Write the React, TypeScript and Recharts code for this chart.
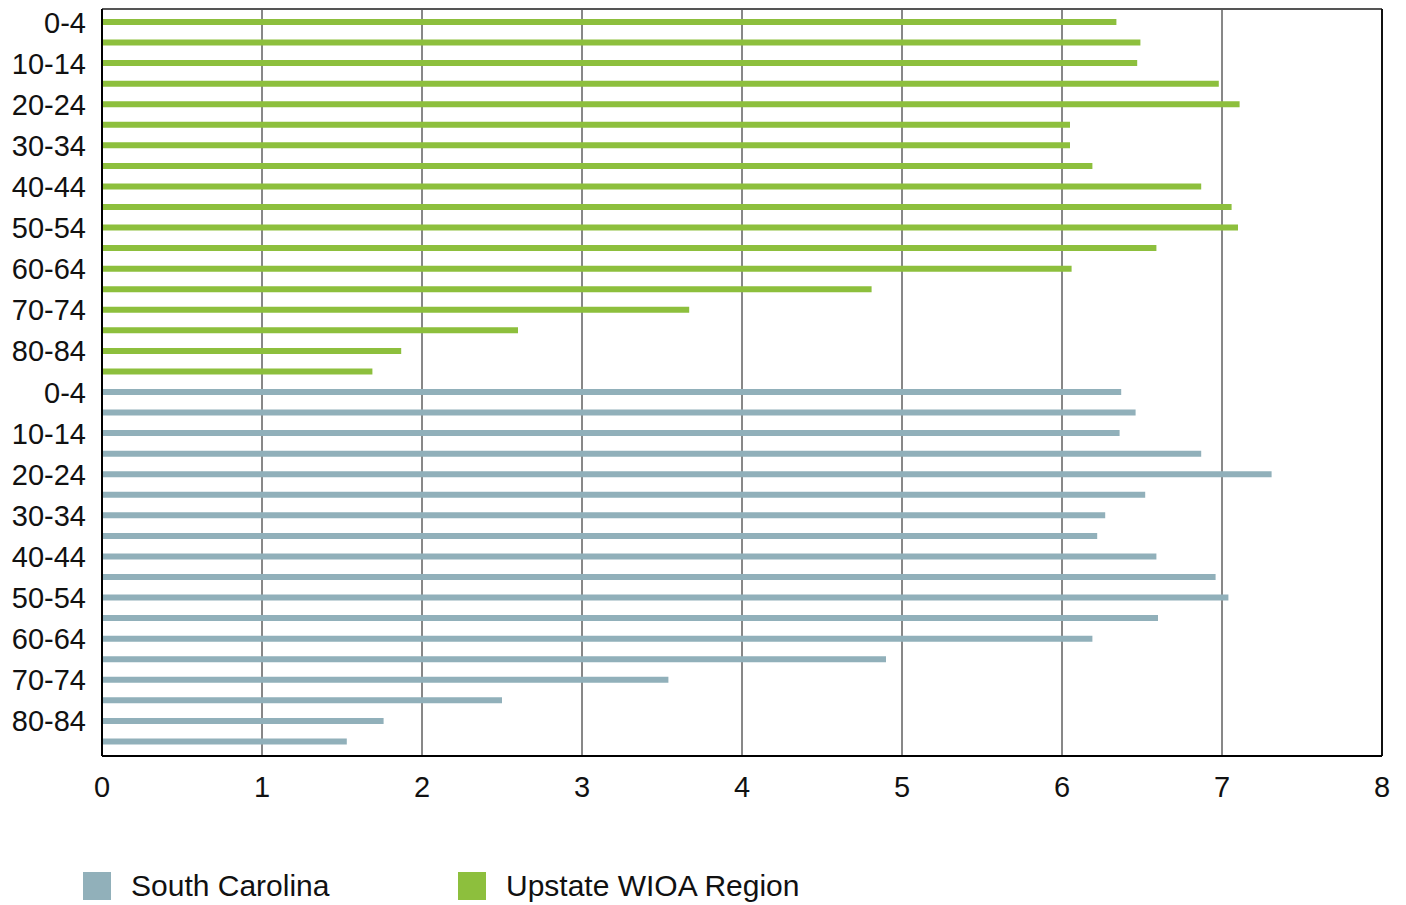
import React from "react";
import {
  BarChart,
  Bar,
  XAxis,
  YAxis,
  CartesianGrid,
  ReferenceLine,
} from "recharts";

// age groups, top to bottom
const ages = [
  "0-4", "5-9", "10-14", "15-19", "20-24", "25-29", "30-34", "35-39", "40-44",
  "45-49", "50-54", "55-59", "60-64", "65-69", "70-74", "75-79", "80-84", "85+",
];

// percent of population by age group
const upstate = [
  6.34, 6.49, 6.47, 6.98, 7.11, 6.05, 6.05, 6.19, 6.87,
  7.06, 7.1, 6.59, 6.06, 4.81, 3.67, 2.6, 1.87, 1.69,
];
const southCarolina = [
  6.37, 6.46, 6.36, 6.87, 7.31, 6.52, 6.27, 6.22, 6.59,
  6.96, 7.04, 6.6, 6.19, 4.9, 3.54, 2.5, 1.76, 1.53,
];

const xTicks = [0, 1, 2, 3, 4, 5, 6, 7, 8];

const GREEN = "#8dbf3d";
const GRAY = "#91b0ba";
const FONT = "'Liberation Sans', Arial, sans-serif";

const data = [
  ...ages.map((a, i) => ({ key: `U|${a}`, up: upstate[i] })),
  ...ages.map((a, i) => ({ key: `S|${a}`, sc: southCarolina[i] })),
];

const ageTick = (v: string) => {
  const age = v.split("|")[1];
  return ages.indexOf(age) % 2 === 0 ? age : "";
};

export default function App() {
  return (
    <div style={{ position: "relative", width: 1406, height: 905, fontFamily: FONT }}>
      <style>{"body{margin:0}"}</style>
      <BarChart
        width={1406}
        height={905}
        data={data}
        layout="vertical"
        margin={{ top: 9, right: 24, bottom: 99, left: 0 }}
      >
        <CartesianGrid horizontal={false} stroke="#111" />
        {/* top frame line */}
        <CartesianGrid vertical={false} horizontalPoints={[9]} stroke="#555" strokeWidth={2} />
        <XAxis
          type="number"
          domain={[0, 8]}
          ticks={xTicks}
          interval={0}
          height={50}
          tickLine={false}
          tickSize={0}
          tickMargin={20}
          axisLine={{ stroke: "#000", strokeWidth: 2 }}
          tick={{ fill: "#111", fontSize: 29, fontFamily: FONT }}
        />
        <YAxis
          type="category"
          dataKey="key"
          width={102}
          interval={0}
          tickLine={false}
          tickSize={0}
          tickMargin={16}
          padding={{ top: 3, bottom: 4 }}
          tickFormatter={ageTick}
          axisLine={{ stroke: "#000", strokeWidth: 2 }}
          tick={{ fill: "#111", fontSize: 29, fontFamily: FONT }}
        />
        {/* right frame line */}
        <ReferenceLine x={8} stroke="#111" strokeWidth={2} />
        <Bar dataKey="up" stackId="a" fill={GREEN} barSize={6} isAnimationActive={false} />
        <Bar dataKey="sc" stackId="a" fill={GRAY} barSize={6} isAnimationActive={false} />
      </BarChart>
      {[
        { name: "South Carolina", color: GRAY, x: 83 },
        { name: "Upstate WIOA Region", color: GREEN, x: 458 },
      ].map((l) => (
        <div
          key={l.name}
          style={{
            position: "absolute",
            left: l.x,
            top: 872,
            display: "flex",
            alignItems: "center",
            height: 28,
          }}
        >
          <span style={{ width: 28, height: 28, background: l.color, display: "inline-block" }} />
          <span style={{ marginLeft: 20, fontSize: 30, color: "#111", whiteSpace: "nowrap" }}>
            {l.name}
          </span>
        </div>
      ))}
    </div>
  );
}
